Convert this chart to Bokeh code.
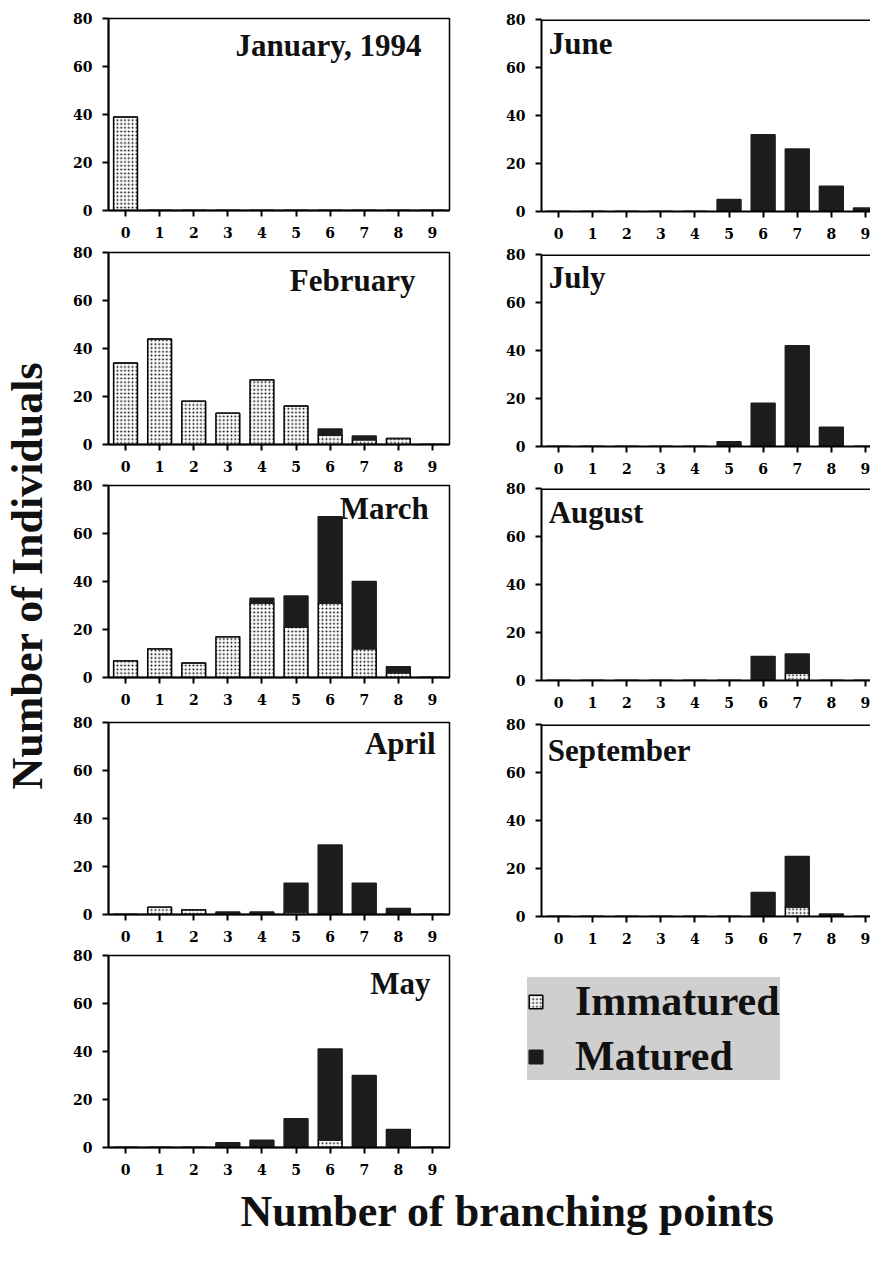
import numpy as np
from bokeh.plotting import figure
from bokeh.models import ColumnDataSource, Range1d, Label, Legend, LegendItem, FixedTicker, Span
from bokeh.layouts import row, column
from bokeh.embed import file_html
from bokeh.resources import INLINE

# ---------------- data ----------------
branch = [0, 1, 2, 3, 4, 5, 6, 7, 8, 9]
y_ticks = [0, 20, 40, 60, 80]

jan_imm = [39, 0, 0, 0, 0, 0, 0, 0, 0, 0]
jan_mat = [0, 0, 0, 0, 0, 0, 0, 0, 0, 0]
feb_imm = [34, 44, 18, 13, 27, 16, 4, 2, 2.5, 0]
feb_mat = [0, 0, 0, 0, 0, 0, 2.5, 1.5, 0, 0]
mar_imm = [7, 12, 6, 17, 31, 21, 31, 12, 2, 0]
mar_mat = [0, 0, 0, 0, 2, 13, 36, 28, 2.5, 0]
apr_imm = [0, 3, 2, 0, 0, 1, 0, 0, 0, 0]
apr_mat = [0, 0, 0, 1, 1, 12, 29, 13, 2.5, 0]
may_imm = [0, 0, 0, 0, 0, 0, 3, 0, 0, 0]
may_mat = [0, 0, 0, 2, 3, 12, 38, 30, 7.5, 0]
jun_imm = [0, 0, 0, 0, 0, 0, 0, 0, 0, 0]
jun_mat = [0, 0, 0, 0, 0, 5, 32, 26, 10.5, 1.5]
jul_imm = [0, 0, 0, 0, 0, 0, 0, 0, 0, 0]
jul_mat = [0, 0, 0, 0, 0, 2, 18, 42, 8, 0]
aug_imm = [0, 0, 0, 0, 0, 0, 0, 3, 0, 0]
aug_mat = [0, 0, 0, 0, 0, 0, 10, 8, 0, 0]
sep_imm = [0, 0, 0, 0, 0, 0, 0, 4, 0, 0]
sep_mat = [0, 0, 0, 0, 0, 0, 10, 21, 1, 0]

left_titles = ["January, 1994", "February", "March", "April", "May"]
right_titles = ["June", "July", "August", "September"]
legend_labels = ["Immatured", "Matured"]
left_data = [(jan_imm, jan_mat), (feb_imm, feb_mat), (mar_imm, mar_mat),
             (apr_imm, apr_mat), (may_imm, may_mat)]
right_data = [(jun_imm, jun_mat), (jul_imm, jul_mat), (aug_imm, aug_mat),
              (sep_imm, sep_mat)]

# ---------------- layout / style ----------------
FRAME_H = 192
BOTTOM = 33
TICK_FONT = "DejaVu Serif"
TITLE_FONT = "Liberation Serif"
left_tops = [18, 9, 8, 12, 8]
left_title_pos = [(8.68, 68.75), (8.5, 68.3), (8.89, 70.4), (9.09, 71.2), (8.94, 68.3)]
right_tops = [19, 10, 9, 11]
right_title_pos = [(-0.29, 70.2), (-0.29, 70.4), (-0.29, 70.0), (-0.32, 69.2)]
RIGHT_FRAME_W = 329

IMM_FILL = "white"
MAT_FILL = "#1c1c1c"


def style_imm(g):
    g.hatch_pattern = "dot"
    g.hatch_color = "black"
    g.hatch_scale = 3.8
    g.hatch_weight = 1


def make_panel(imm, mat, title, pos, top, side):
    h = top + FRAME_H + BOTTOM
    if side == "left":
        w, bl, br = 421, 50, 30
        xr = Range1d(-0.5, 9.5)
    else:
        w, bl, br = 62 + RIGHT_FRAME_W, 62, 0
        xr = Range1d(-0.5, -0.5 + RIGHT_FRAME_W / 34.1)
    p = figure(width=w, height=h, x_range=xr, y_range=Range1d(0, 80),
               output_backend="svg", toolbar_location=None,
               min_border_left=bl, min_border_right=br,
               min_border_top=top, min_border_bottom=BOTTOM)
    p.grid.visible = False
    p.background_fill_color = "white"
    p.border_fill_color = "white"
    if side == "left":
        p.outline_line_color = "black"
        p.outline_line_width = 1.5
    else:
        p.outline_line_color = None
        p.add_layout(Span(location=80, dimension="width", line_color="black", line_width=3))
    src = ColumnDataSource(dict(x=branch, imm=imm, mat=mat))
    r = p.vbar_stack(["imm", "mat"], x="x", width=0.7, source=src,
                     fill_color=[IMM_FILL, MAT_FILL],
                     line_color=["black", MAT_FILL],
                     line_width=1.5)
    style_imm(r[0].glyph)
    for ax in (p.xaxis, p.yaxis):
        ax.axis_line_width = 2
        ax.axis_line_color = "black"
        ax.major_tick_line_width = 2
        ax.major_tick_out = 6
        ax.major_tick_in = 0
        ax.minor_tick_line_color = None
        ax.major_label_text_font = TICK_FONT
        ax.major_label_text_font_style = "bold"
        ax.major_label_text_font_size = "14px"
        ax.major_label_text_color = "black"
    p.xaxis.ticker = FixedTicker(ticks=branch)
    p.yaxis.ticker = FixedTicker(ticks=y_ticks)
    p.xaxis.major_label_standoff = 10
    p.yaxis.major_label_standoff = 10
    lab = Label(x=pos[0], y=pos[1], text=title,
                text_align="right" if side == "left" else "left",
                text_baseline="middle", text_font=TITLE_FONT,
                text_font_style="bold", text_font_size="31px", text_color="#111111")
    p.add_layout(lab)
    return p


left_figs = [make_panel(d[0], d[1], t, ps, tp, "left")
             for d, t, ps, tp in zip(left_data, left_titles, left_title_pos, left_tops)]
right_figs = [make_panel(d[0], d[1], t, ps, tp, "right")
              for d, t, ps, tp in zip(right_data, right_titles, right_title_pos, right_tops)]

LEFT_COL_H = sum(t + FRAME_H + BOTTOM for t in left_tops)
RIGHT_COL_H = sum(t + FRAME_H + BOTTOM for t in right_tops)
LEG_H = LEFT_COL_H - RIGHT_COL_H


def blank(w, h):
    f = figure(width=w, height=h, x_range=Range1d(0, w), y_range=Range1d(0, h),
               output_backend="svg", toolbar_location=None,
               x_axis_location=None, y_axis_location=None, min_border=0)
    f.grid.visible = False
    f.outline_line_color = None
    f.background_fill_color = "white"
    f.border_fill_color = "white"
    return f


# legend panel (renderers carry no visible data; they only supply legend swatches)
leg_fig = blank(62 + RIGHT_FRAME_W, LEG_H)
leg_src = ColumnDataSource(dict(x=[float("nan")], top=[float("nan")]))
r_imm = leg_fig.vbar(x="x", top="top", width=0.7, source=leg_src,
                     fill_color=IMM_FILL, line_color="black", line_width=1.5)
style_imm(r_imm.glyph)
r_mat = leg_fig.vbar(x="x", top="top", width=0.7, source=leg_src,
                     fill_color=MAT_FILL, line_color=MAT_FILL, line_width=1.5)
legend = Legend(items=[LegendItem(label=legend_labels[0], renderers=[r_imm]),
                       LegendItem(label=legend_labels[1], renderers=[r_mat])],
                location=(48, 100), orientation="vertical",
                glyph_width=17, glyph_height=17, label_standoff=31,
                label_text_font=TITLE_FONT, label_text_font_style="bold",
                label_text_font_size="42px", label_text_color="#111111",
                spacing=7, padding=6, margin=0,
                background_fill_color="#cfcfcf", background_fill_alpha=1.0,
                border_line_color=None)
leg_fig.add_layout(legend)

# y label
ylab = blank(58, LEFT_COL_H)
ylab.add_layout(Label(x=27, y=LEFT_COL_H - 575, text="Number of Individuals",
                      angle=np.pi / 2, text_align="center", text_baseline="middle",
                      text_font=TITLE_FONT, text_font_style="bold",
                      text_font_size="44px", text_color="#111111"))

# x label
XL_H = 1255 - LEFT_COL_H
xlab = blank(58 + 421 + 62 + RIGHT_FRAME_W, XL_H)
xlab.add_layout(Label(x=507, y=1255 - 1211, text="Number of branching points",
                      text_align="center", text_baseline="middle",
                      text_font=TITLE_FONT, text_font_style="bold",
                      text_font_size="44px", text_color="#111111"))

layout = column(row(ylab, column(*left_figs), column(*right_figs, row(leg_fig))), xlab)

with open("out.html", "w") as fh:
    fh.write(file_html(layout, INLINE))
